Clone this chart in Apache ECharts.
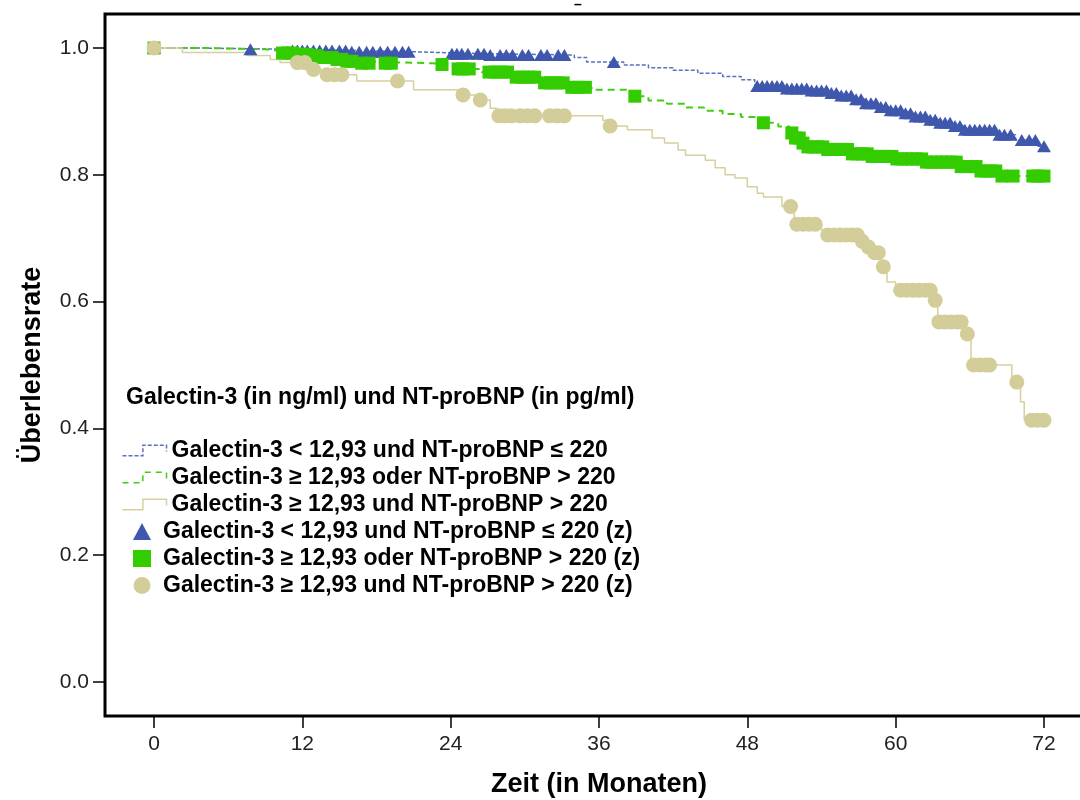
<!DOCTYPE html>
<html>
<head>
<meta charset="utf-8">
<script src="https://cdn.jsdelivr.net/npm/echarts@6/dist/echarts.min.js"></script>
<style>html,body{margin:0;padding:0;background:#fff}#c{width:1080px;height:800px}</style>
</head>
<body>
<div id="c"></div>
<script>
// ---- Data ----
const xTicks = [0, 12, 24, 36, 48, 60, 72];
const yTicks = [0, 0.2, 0.4, 0.6, 0.8, 1.0];

const seriesNames = [
  'Galectin-3 < 12,93 und NT-proBNP \u2264 220',
  'Galectin-3 \u2265 12,93 oder NT-proBNP > 220',
  'Galectin-3 \u2265 12,93 und NT-proBNP > 220'
];
const censorNames = seriesNames.map(n => n + ' (z)');

// Kaplan-Meier steps: [time, survival after event]
const blueSteps = [[0,1.0],[3,0.998],[11,0.996],[16,0.994],[21,0.991],[27,0.989],[34,0.985],[35,0.978],[38,0.973],[40,0.969],[42,0.965],[44,0.960],[46,0.955],[47.5,0.950],[48.6,0.940],[51,0.936],[53,0.933],[54.5,0.929],[55.5,0.925],[56.5,0.919],[57.5,0.913],[58.5,0.907],[59.5,0.902],[60.5,0.897],[61.5,0.892],[62.5,0.887],[63.5,0.882],[64.5,0.877],[65.5,0.871],[68.2,0.863],[69.7,0.855],[71.5,0.845],[72,0.845]];
const greenSteps = [[0,1.0],[4,0.998],[9,0.995],[10.3,0.992],[11.5,0.990],[12.5,0.988],[13.5,0.985],[14.5,0.982],[15.5,0.979],[16.3,0.976],[22.5,0.974],[24.3,0.967],[26.5,0.962],[28.8,0.954],[31.2,0.945],[33.5,0.938],[35.4,0.934],[38.5,0.924],[40,0.917],[41.5,0.912],[43,0.906],[44.5,0.901],[46,0.896],[47.5,0.891],[49,0.882],[50.5,0.876],[51.4,0.866],[51.9,0.858],[52.4,0.850],[52.9,0.844],[54.5,0.840],[56.5,0.833],[58,0.829],[60,0.825],[62.5,0.820],[65,0.813],[66.8,0.806],[68.5,0.798],[72,0.798]];
const tanSteps = [[0,1.0],[2.3,0.993],[7.5,0.988],[9.4,0.982],[10.2,0.977],[12.7,0.966],[13.6,0.958],[16.4,0.948],[21.0,0.934],[24.8,0.926],[26.2,0.918],[27.2,0.905],[27.7,0.893],[36.3,0.886],[36.7,0.877],[38.3,0.871],[40.3,0.858],[41.3,0.850],[42.4,0.839],[43.0,0.831],[44.6,0.823],[45.4,0.811],[46.2,0.800],[47.0,0.795],[48.0,0.781],[48.8,0.771],[49.3,0.765],[50.8,0.750],[51.8,0.722],[54.0,0.713],[54.3,0.705],[57.0,0.695],[57.6,0.686],[58.2,0.677],[58.8,0.655],[59.3,0.631],[60.0,0.618],[63.0,0.602],[63.4,0.568],[65.6,0.549],[66.1,0.500],[69.4,0.473],[70.1,0.442],[70.4,0.413],[72,0.413]];

// censoring times
const blueCensor = [0,7.8,11.2,11.6,12.0,12.4,12.9,13.4,13.9,14.4,15.0,15.5,16.0,16.6,17.2,17.7,18.3,18.9,19.5,20.1,20.6,24.1,24.5,24.9,25.4,26.2,26.7,27.2,28.0,28.5,29.0,29.8,30.3,31.3,31.8,32.7,33.2,37.2,48.8,49.2,49.6,50.0,50.4,50.8,51.2,51.6,52.0,52.4,52.8,53.2,53.6,54.0,54.4,54.8,55.2,55.6,56.0,56.4,56.8,57.2,57.6,58.0,58.4,58.8,59.2,59.6,60.0,60.4,60.8,61.2,61.6,62.0,62.4,62.8,63.2,63.6,64.0,64.4,64.8,65.2,65.6,66.0,66.4,66.8,67.2,67.6,68.0,68.4,68.8,69.3,70.2,70.8,71.3,72.0];
const greenCensor = [0,10.4,10.8,11.2,11.6,12.0,12.4,12.8,13.2,13.6,14.0,14.4,14.8,15.2,15.6,16.0,16.8,17.4,18.7,19.2,23.3,24.6,25.0,25.5,27.1,27.6,28.1,28.6,29.3,29.8,30.3,30.8,31.6,32.1,32.6,33.1,33.8,34.3,34.9,38.9,49.3,51.6,51.9,52.2,52.5,52.9,53.3,53.7,54.1,54.5,54.9,55.3,55.7,56.1,56.5,56.9,57.3,57.7,58.1,58.5,58.9,59.3,59.7,60.1,60.5,60.9,61.3,61.7,62.1,62.5,62.9,63.3,63.7,64.1,64.5,64.9,65.3,65.7,66.1,66.5,66.9,67.3,67.7,68.1,68.6,69.5,71.1,71.5,72.0];
const tanCensor = [0,11.6,12.2,12.9,14.0,14.6,15.2,19.7,25.0,26.4,27.9,28.4,28.9,29.6,30.2,30.8,32.0,32.6,33.2,36.9,51.5,52.0,52.5,53.0,53.5,54.5,55.0,55.5,56.0,56.5,56.9,57.3,57.8,58.3,58.6,59.0,60.4,60.9,61.4,61.9,62.4,62.8,63.2,63.5,64.0,64.5,65.0,65.3,65.8,66.3,66.8,67.3,67.6,69.8,71.0,71.5,72.0];

// ---- helpers ----
function survAt(steps, t) {
  let s = steps[0][1];
  for (const p of steps) { if (p[0] <= t) s = p[1]; else break; }
  return s;
}
function censorPoints(steps, times) { return times.map(t => [t, survAt(steps, t)]); }

const FONT = '"Liberation Sans", Arial, sans-serif';
const blue = '#3f58ad', blueLine = '#5a70c2';
const green = '#33cc00', greenLine = '#3fcf10';
const tan = '#d3cd99', tanLine = '#d6d09e';

const chart = echarts.init(document.getElementById('c'), null, {renderer: 'canvas'});
const lineSeries = (name, steps, color, type, width, z) => ({
  name, type: 'line', step: 'end', data: steps, showSymbol: false, symbol: 'none',
  clip: false, xAxisIndex: 0, yAxisIndex: 0, z,
  lineStyle: {color, width, type}, itemStyle: {color}, animation: false
});
const scatterSeries = (name, steps, times, color, symbol, size, z) => ({
  name, type: 'scatter', data: censorPoints(steps, times), symbol, symbolSize: size,
  clip: false, xAxisIndex: 0, yAxisIndex: 0, z,
  itemStyle: {color, opacity: 1}, animation: false
});
const legendText = {fontFamily: FONT, fontSize: 23, fontWeight: 'bold', color: '#000', lineHeight: 22};
const stepIcon = 'path://M0,11L19,11L19,1L41,1L41,7';

const option = {
  backgroundColor: '#fff',
  animation: false,
  title: [{
    text: 'Galectin-3 (in ng/ml) und NT-proBNP (in pg/ml)',
    left: 126, top: 386, padding: 0,
    textStyle: {fontFamily: FONT, fontSize: 23, fontWeight: 'bold', color: '#000'}
  }, {
    text: '\u2013', left: 574, top: -2, padding: 0,
    textStyle: {fontFamily: FONT, fontSize: 14, fontWeight: 'bold', color: '#000'}
  }],
  grid: [
    {left: 154, right: 36, top: 48, bottom: 118, outerBoundsMode: 'none'},
    {left: 105, right: -20, top: 14, bottom: 84, outerBoundsMode: 'none', show: true, borderColor: '#000', borderWidth: 3, backgroundColor: 'rgba(0,0,0,0)'}
  ],
  legend: [{
    orient: 'vertical', left: 120, top: 439, padding: 0, itemGap: 4,
    itemWidth: 44, itemHeight: 16, selectedMode: false, textStyle: legendText,
    data: [
      {name: seriesNames[0], icon: stepIcon, itemStyle: {color: 'none', borderColor: blueLine, borderWidth: 1.5, borderType: [4, 2]}},
      {name: seriesNames[1], icon: stepIcon, itemStyle: {color: 'none', borderColor: greenLine, borderWidth: 1.5, borderType: [6, 5]}},
      {name: seriesNames[2], icon: stepIcon, itemStyle: {color: 'none', borderColor: tanLine, borderWidth: 1.5, borderType: 'solid'}}
    ]
  }, {
    orient: 'vertical', left: 133, top: 520, padding: 0, itemGap: 4,
    itemWidth: 18, itemHeight: 17, selectedMode: false,
    textStyle: Object.assign({}, legendText, {padding: [0, 0, 0, 7]}),
    data: [
      {name: censorNames[0], icon: 'triangle', itemStyle: {color: blue}},
      {name: censorNames[1], icon: 'rect', itemStyle: {color: green}},
      {name: censorNames[2], icon: 'circle', itemStyle: {color: tan}}
    ]
  }],
  xAxis: [{
    type: 'value', gridIndex: 0, min: 0, max: 72, interval: 12, offset: 34,
    axisLine: {show: false, onZero: false},
    axisTick: {show: true, length: 12, lineStyle: {color: '#000', width: 1.5}},
    axisLabel: {fontFamily: FONT, fontSize: 21, color: '#222', margin: 18},
    splitLine: {show: false},
    name: 'Zeit (in Monaten)', nameLocation: 'middle', nameGap: 55,
    nameTextStyle: {fontFamily: FONT, fontSize: 27, fontWeight: 'bold', color: '#000'}
  }, {
    type: 'value', gridIndex: 1, show: false, min: 0, max: 1
  }],
  yAxis: [{
    type: 'value', gridIndex: 0, min: 0, max: 1, interval: 0.2, offset: 49,
    axisLine: {show: false, onZero: false},
    axisTick: {show: true, length: 12, lineStyle: {color: '#000', width: 1.5}},
    axisLabel: {fontFamily: FONT, fontSize: 21, color: '#222', margin: 16, formatter: v => v.toFixed(1)},
    splitLine: {show: false},
    name: '\u00dcberlebensrate', nameLocation: 'middle', nameGap: 59,
    nameTextStyle: {fontFamily: FONT, fontSize: 27, fontWeight: 'bold', color: '#000'}
  }, {
    type: 'value', gridIndex: 1, show: false, min: 0, max: 1
  }],
  series: [
    lineSeries(seriesNames[0], blueSteps, blueLine, [4, 2], 1.5, 2),
    lineSeries(seriesNames[1], greenSteps, greenLine, [7, 5], 2, 3),
    lineSeries(seriesNames[2], tanSteps, tanLine, 'solid', 1.5, 4),
    scatterSeries(censorNames[0], blueSteps, blueCensor, blue, 'triangle', [14, 12], 5),
    scatterSeries(censorNames[1], greenSteps, greenCensor, green, 'rect', 13, 6),
    scatterSeries(censorNames[2], tanSteps, tanCensor, tan, 'circle', 15, 7)
  ]
};
chart.setOption(option);
</script>
</body>
</html>
